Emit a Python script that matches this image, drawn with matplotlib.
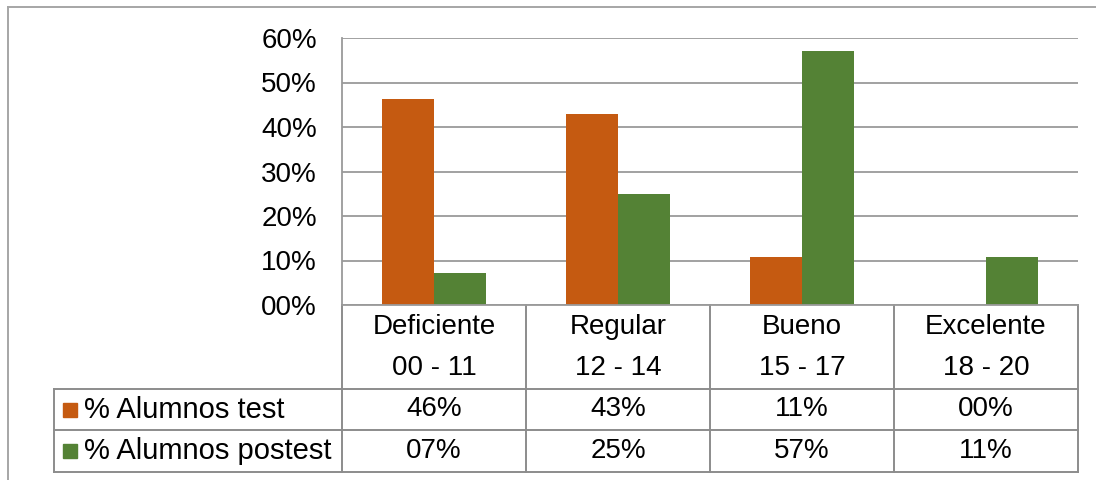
import matplotlib
matplotlib.use("Agg")
import matplotlib.pyplot as plt
from matplotlib.patches import Rectangle

plt.rcParams['font.family'] = ['Liberation Sans', 'DejaVu Sans']

categories = ["Deficiente", "Regular", "Bueno", "Excelente"]
ranges = ["00 - 11", "12 - 14", "15 - 17", "18 - 20"]
series_names = ["% Alumnos test", "% Alumnos postest"]
test_vals = [0.464, 0.429, 0.107, 0.0]
postest_vals = [0.071, 0.25, 0.571, 0.107]
yticks = [0.0, 0.1, 0.2, 0.3, 0.4, 0.5, 0.6]

colors = ["#C55A11", "#548235"]
grid_col = "#9A9A9A"
line_col = "#8C8C8C"
fs = 20

W, H = 1096, 480
fig = plt.figure(figsize=(W / 100, H / 100), dpi=100)

# plot area in pixels
px0, px1, py0, py1 = 342, 1078, 38, 305
ax = fig.add_axes([px0 / W, 1 - py1 / H, (px1 - px0) / W, (py1 - py0) / H])

bw = 52 / 184
x = range(len(categories))
ax.bar([i - bw / 2 for i in x], test_vals, bw, color=colors[0], zorder=3)
ax.bar([i + bw / 2 for i in x], postest_vals, bw, color=colors[1], zorder=3)
ax.set_xlim(-0.5, len(categories) - 0.5)
ax.set_ylim(0, 0.6)
ax.set_yticks(yticks)
ax.set_yticklabels([f"{v * 100:02.0f}%" for v in yticks], fontsize=fs)
ax.tick_params(axis='y', length=0, pad=18)
ax.set_xticks([])
ax.grid(axis='y', color=grid_col, linewidth=1.3, zorder=0)
for s in ["top", "right", "bottom"]:
    ax.spines[s].set_visible(False)
ax.spines["left"].set_color(grid_col)
ax.spines["left"].set_linewidth(1.3)

# overlay for table and frame, in pixel coordinates
ov = fig.add_axes([0, 0, 1, 1], zorder=5)
ov.set_xlim(0, W)
ov.set_ylim(H, 0)
ov.axis("off")
ov.patch.set_alpha(0)

# chart frame (top and left visible)
ov.plot([8, W + 5], [7, 7], color="#A6A6A6", lw=1.4)
ov.plot([8, 8], [7, H + 5], color="#A6A6A6", lw=1.4)

cw = (px1 - px0) / len(categories)
r_head, r1, r2, r3 = py1, 389, 430, 472
tab_left = 54

for i in range(len(categories) + 1):
    xx = px0 + i * cw
    ov.plot([xx, xx], [r_head, r3], color=line_col, lw=1.4)
ov.plot([px0, px1], [r_head, r_head], color=grid_col, lw=1.3)
for yy in (r1, r2, r3):
    ov.plot([tab_left, px1], [yy, yy], color=line_col, lw=1.4)
ov.plot([tab_left, tab_left], [r1, r3], color=line_col, lw=1.4)

for i, (c, r) in enumerate(zip(categories, ranges)):
    cx = px0 + (i + 0.5) * cw
    ov.text(cx, 327, c, ha="center", va="center", fontsize=fs)
    ov.text(cx, 368, r, ha="center", va="center", fontsize=fs)

rows = [test_vals, postest_vals]
row_mid = [(r1 + r2) / 2, (r2 + r3) / 2]
for k, vals in enumerate(rows):
    ym = row_mid[k]
    ov.add_patch(Rectangle((63, ym - 7), 14, 14, color=colors[k]))
    ov.text(84, ym, series_names[k], ha="left", va="center", fontsize=21)
    for i, v in enumerate(vals):
        cx = px0 + (i + 0.5) * cw
        ov.text(cx, ym, f"{v * 100:02.0f}%", ha="center", va="center", fontsize=fs)

fig.savefig("out.png", dpi=100, facecolor="white")
